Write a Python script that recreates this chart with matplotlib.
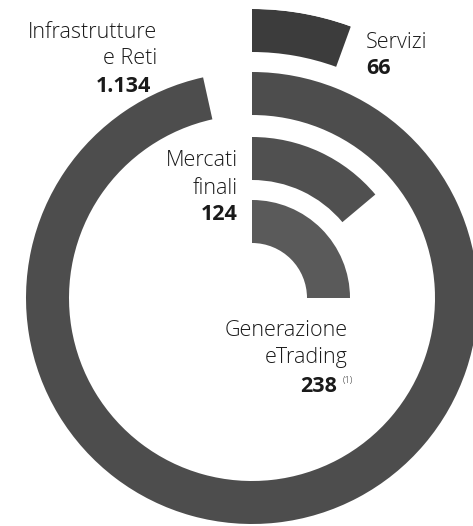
import numpy as np
import matplotlib.pyplot as plt

# segments, outermost ring first
names = ['Servizi', 'Infrastrutture\ne Reti', 'Mercati\nfinali', 'Generazione\neTrading']
values = ['66', '1.134', '124', '238']
# arc length of each ring (degrees, clockwise from 12 o'clock)
sweep_deg = [20, 347.5, 50, 90]
ring_inner = [246, 183, 118, 55]
ring_width = 43

W, H = 473, 526
fig = plt.figure(figsize=(W / 100, H / 100), dpi=100)

cx, cy, R = 252, 298, 289
ax = fig.add_axes([(cx - R) / W, (H - cy - R) / H, 2 * R / W, 2 * R / H], projection='polar')
ax.set_theta_zero_location('N')
ax.set_theta_direction(-1)
ax.set_ylim(0, R)
ax.axis('off')

cols = ['#3c3c3c', '#4d4d4d', '#505050', '#5a5a5a']
for i in range(len(names)):
    w = np.deg2rad(sweep_deg[i])
    ax.bar(w / 2, ring_width, width=w, bottom=ring_inner[i], color=cols[i], edgecolor='none', align='center')

fam = 'Open Sans'
fs = 15.5

def lab(x, y, txt, ha='left', bold=False, size=fs):
    fig.text(x / W, 1 - y / H, txt, ha=ha, va='center', fontsize=size, family=fam,
             fontweight='bold' if bold else 'light', color='#1a1a1a')

# Infrastrutture e Reti
lab(157, 32, 'Infrastrutture', ha='right')
lab(157, 59, 'e Reti', ha='right')
lab(151, 86, values[1], ha='right', bold=True)
# Servizi
lab(366, 42, 'Servizi')
lab(366, 68, values[0], bold=True)
# Mercati finali
lab(238, 161, 'Mercati', ha='right')
lab(238, 188, 'finali', ha='right')
lab(238, 215, values[2], ha='right', bold=True)
# Generazione e Trading
lab(348, 331, 'Generazione', ha='right')
lab(348, 358, 'eTrading', ha='right')
lab(337, 386, values[3], ha='right', bold=True)
lab(343, 380, '(1)', size=6.5)

fig.savefig('out.png', dpi=100)
